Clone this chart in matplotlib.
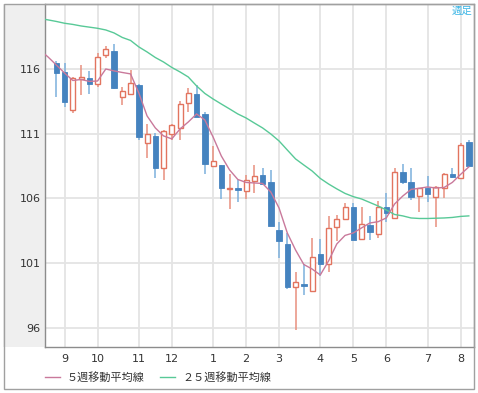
import numpy as np
import matplotlib
matplotlib.use("Agg")
import matplotlib.pyplot as plt
from matplotlib.patches import Rectangle
from matplotlib.lines import Line2D

# ---- data (weekly candles) ----
opens = [116.46, 115.77, 112.85, 115.23, 115.35, 114.84, 117.11, 117.44, 113.88, 114.09,
         114.81, 110.27, 110.84, 108.38, 110.99, 111.43, 113.41, 114.09, 112.54, 108.52,
         108.59, 106.74, 106.84, 106.58, 107.35, 107.82, 107.30, 103.56, 102.48, 99.13,
         99.36, 98.86, 101.68, 100.93, 103.79, 104.39, 105.37, 102.84, 103.95, 103.25,
         105.32, 104.47, 108.01, 107.25, 106.19, 106.79, 106.14, 106.83, 107.92, 107.61,
         110.40]
highs = [116.67, 116.46, 115.43, 116.33, 115.89, 117.28, 117.83, 117.96, 114.65, 115.95,
         114.85, 111.74, 111.05, 111.30, 111.74, 113.55, 114.53, 114.78, 112.72, 110.06,
         108.59, 107.87, 107.43, 107.82, 108.59, 108.34, 108.21, 104.16, 103.31, 100.33,
         100.91, 102.92, 102.84, 104.65, 104.72, 105.63, 105.63, 105.37, 104.65, 105.80,
         106.45, 108.34, 108.65, 108.34, 106.79, 107.72, 106.98, 107.95, 108.36, 110.29,
         110.50]
lows = [113.88, 113.06, 112.59, 114.01, 114.07, 114.65, 116.85, 114.50, 113.24, 114.09,
        110.53, 109.16, 107.56, 107.43, 110.53, 110.53, 112.72, 112.33, 107.90, 108.52,
        105.94, 105.16, 105.75, 105.94, 106.40, 107.12, 103.87, 101.42, 98.97, 95.82,
        98.53, 98.86, 100.03, 100.33, 102.73, 104.30, 102.79, 102.84, 102.76, 102.97,
        104.18, 104.47, 107.12, 105.88, 104.99, 105.73, 103.76, 106.04, 107.59, 107.61,
        108.40]
closes = [115.74, 113.49, 115.35, 115.38, 114.84, 116.93, 117.57, 114.53, 114.32, 114.92,
          110.72, 110.99, 108.38, 111.22, 111.69, 113.31, 114.14, 112.33, 108.67, 108.93,
          106.79, 106.81, 106.66, 107.43, 107.74, 107.12, 103.87, 102.71, 99.13, 99.51,
          99.23, 101.50, 100.91, 103.69, 104.39, 105.37, 102.79, 104.02, 103.38, 105.34,
          104.90, 108.07, 107.28, 106.14, 106.79, 106.35, 106.89, 107.88, 107.69, 110.14,
          108.49]

# moving averages, starting two weeks before the first visible candle
ma5 = [117.49, 116.95, 116.33, 115.71, 115.13, 115.21, 115.06, 115.09, 116.02, 115.87,
       115.75, 115.64, 114.17, 112.39, 111.46, 110.84, 110.61, 111.38, 111.92, 112.54,
       112.08, 110.76, 109.29, 108.21, 107.47, 107.24, 107.20, 107.16, 106.50, 105.26,
       103.33, 102.01, 100.89, 100.54, 100.08, 101.16, 102.48, 103.14, 103.33, 103.72,
       104.10, 104.20, 104.49, 105.57, 106.19, 106.70, 106.79, 106.89, 106.81, 106.85,
       107.24, 107.86, 108.44]
ma25 = [119.93, 119.82, 119.70, 119.56, 119.47, 119.35, 119.26, 119.17, 119.04, 118.81,
        118.46, 118.23, 117.73, 117.34, 116.91, 116.56, 116.14, 115.79, 115.40, 114.71,
        114.13, 113.70, 113.31, 112.93, 112.54, 112.23, 111.84, 111.46, 110.99, 110.45,
        109.75, 109.06, 108.59, 108.13, 107.55, 107.12, 106.74, 106.39, 106.14, 105.96,
        105.69, 105.42, 105.11, 104.76, 104.65, 104.49, 104.45, 104.45, 104.47, 104.49,
        104.53, 104.61, 104.65]

month_labels = ["9", "10", "11", "12", "1", "2", "3", "4", "5", "6", "7", "8"]
month_weeks = [1, 5, 10, 14, 19, 23, 27, 32, 36, 40, 45, 49]
y_ticks = [96, 101, 106, 111, 116]
legend_labels = ["５週移動平均線", "２５週移動平均線"]
period_label = "週足"

# ---- styling ----
JP = ["Noto Sans CJK JP", "DejaVu Sans"]
BLUE = "#4583bf"
BLUE_WICK = "#7cb0dc"
RED = "#e2745f"
RED_WICK = "#e8907e"
PINK = "#c9799b"
GREEN = "#58c997"

W, H = 478, 393
fig = plt.figure(figsize=(W / 100, H / 100), dpi=100)
fig.patch.set_facecolor("white")


def fx(px):
    return px / W


def fy(py):
    return 1 - py / H


# left gray panel and outer frame
fig.patches.append(Rectangle((fx(3), fy(347.3)), fx(45) - fx(3), fy(4) - fy(347.3),
                             transform=fig.transFigure, facecolor="#efefef",
                             edgecolor="none", zorder=-5))
fig.patches.append(Rectangle((fx(3.5), fy(389)), fx(474) - fx(3.5), fy(4) - fy(389),
                             transform=fig.transFigure, fill=False,
                             edgecolor="#a0a0a0", lw=1.0, zorder=5))

ax = fig.add_axes([fx(45), fy(347.3), fx(474) - fx(45), fy(4) - fy(347.3)])
ax.set_zorder(1)
ax.set_facecolor("white")

n = len(opens)
x = np.arange(n)
o = np.array(opens)
c = np.array(closes)
up = c >= o

# wicks
ax.vlines(x[up], np.array(lows)[up], np.array(highs)[up], colors=RED_WICK, lw=1.1, zorder=2)
ax.vlines(x[~up], np.array(lows)[~up], np.array(highs)[~up], colors=BLUE_WICK, lw=1.1, zorder=2)

# bodies
bottom = np.minimum(o, c)
height = np.maximum(np.abs(c - o), 0.08)
ax.bar(x[up], height[up], bottom=bottom[up], width=0.6, facecolor="white",
       edgecolor=RED, linewidth=1.0, zorder=3)
ax.bar(x[~up], height[~up], bottom=bottom[~up], width=0.66, facecolor=BLUE,
       edgecolor=BLUE, linewidth=0.6, zorder=3)

# moving averages
ma_x = np.arange(-2, n)
ax.plot(ma_x, ma25, color=GREEN, lw=1.0, zorder=4)
ax.plot(ma_x, ma5, color=PINK, lw=1.0, zorder=4)

ax.set_xlim(-1.37, 50.63)
ax.set_ylim(94.48, 121.05)
ax.set_xticks(month_weeks)
ax.set_xticklabels(month_labels)
ax.set_yticks(y_ticks)
ax.set_yticklabels([str(v) for v in y_ticks])
ax.grid(True, color="#e4e4e4", lw=1.3, zorder=0)
ax.set_axisbelow(True)
ax.tick_params(axis="both", length=0, labelsize=8, colors="#333333")
ax.tick_params(axis="x", pad=5)
ax.tick_params(axis="y", pad=3)
for s in ["left", "bottom"]:
    ax.spines[s].set_color("#8c8c8c")
    ax.spines[s].set_linewidth(1.0)
for s in ["top", "right"]:
    ax.spines[s].set_color("#a0a0a0")
    ax.spines[s].set_linewidth(1.0)

# period label
fig.text(fx(472), fy(11), period_label, color="#3cb6e6", fontsize=7.5,
         family=JP, ha="right", va="center", zorder=6)

# legend
ly = fy(377)
fig.add_artist(Line2D([fx(45), fx(60)], [ly, ly], color=PINK, lw=1.0,
                      transform=fig.transFigure))
fig.text(fx(67), ly, legend_labels[0], fontsize=8, family=JP, color="#333333",
         ha="left", va="center")
fig.add_artist(Line2D([fx(160), fx(175)], [ly, ly], color=GREEN, lw=1.0,
                      transform=fig.transFigure))
fig.text(fx(182), ly, legend_labels[1], fontsize=8, family=JP, color="#333333",
         ha="left", va="center")

fig.savefig("out.png", dpi=100)
